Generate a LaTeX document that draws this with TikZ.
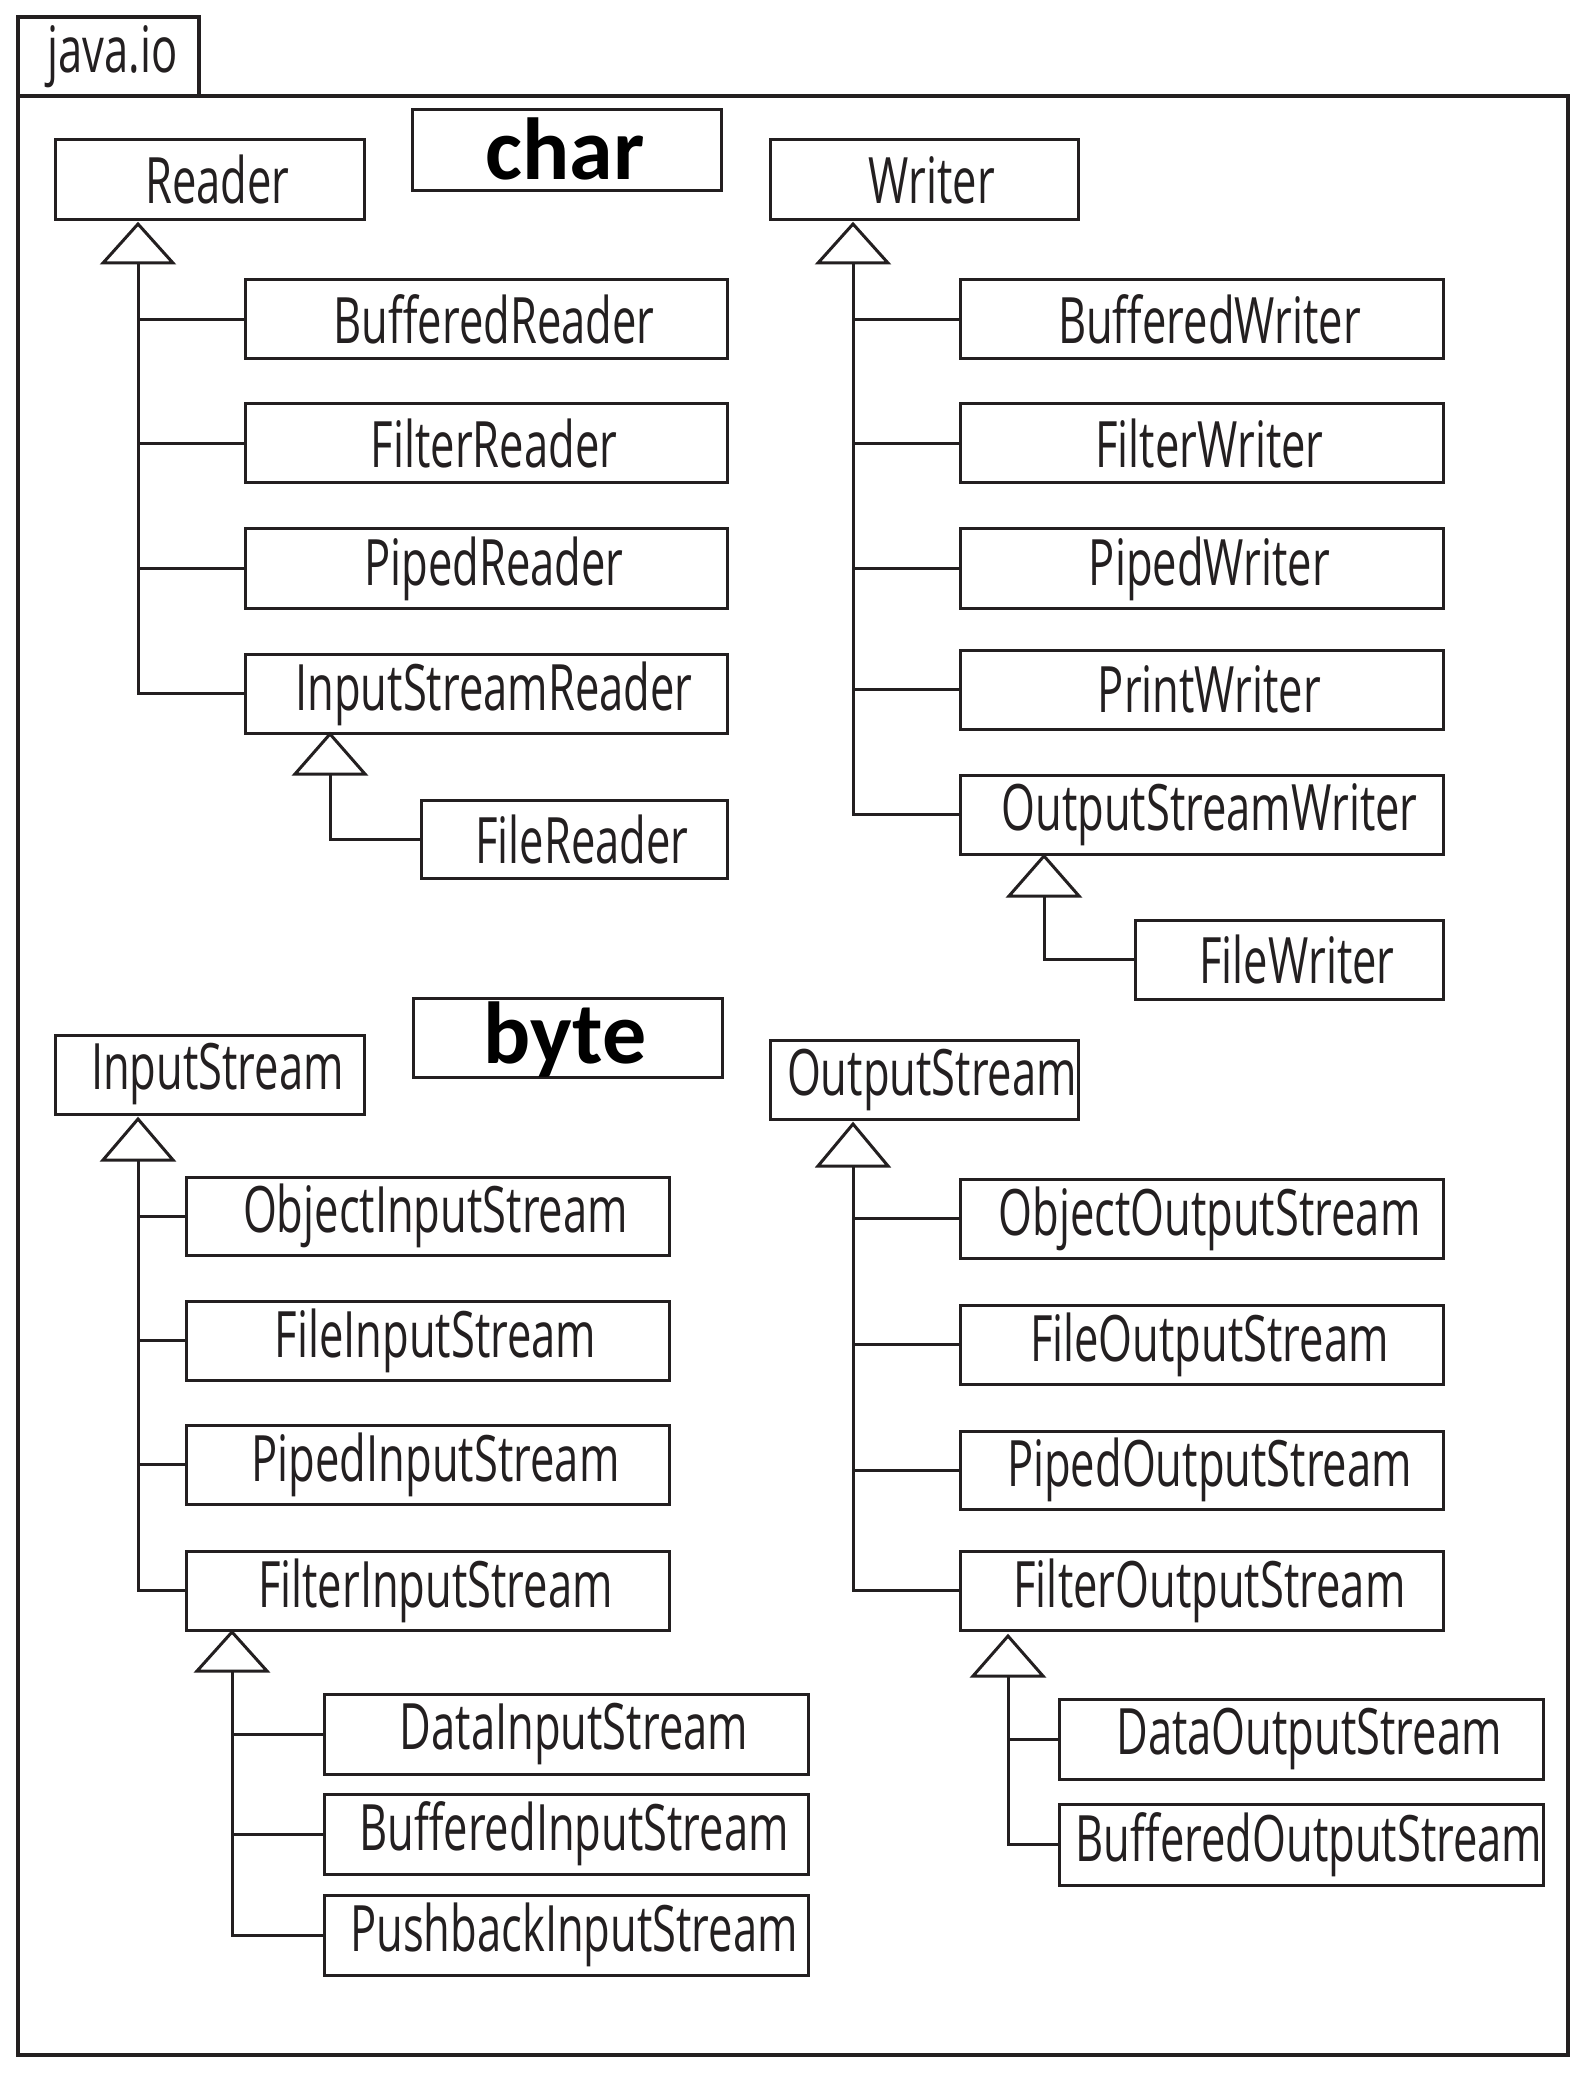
\documentclass[tikz,border=0pt]{standalone}
\usepackage{fontspec}
\newfontfamily\clsfont[FakeStretch=0.68]{Open Sans}
\newfontfamily\tagfont{Carlito}
\definecolor{ink}{HTML}{231F20}
\newcommand\clsbox[6]{\node[clsnode, minimum width={(#4-#2)*0.5pt}, minimum height={(#5-#3)*0.5pt}] (#1) at ({(#2+#4)/2},{(#3+#5)/2}) {\hspace*{8pt}#6};}
\newcommand\gentri[4]{% name, x, apex y, base y
  \coordinate (#1a) at (#2,#3);
  \coordinate (#1b) at (#2,#4);
  \draw[conn] (#1a) -- (#2-35,#4) -- (#2+35,#4) -- cycle;}
\begin{document}
\begin{tikzpicture}[x=0.5pt,y=-0.5pt,
  clsnode/.style={draw=ink, line width=1.5pt, inner sep=0pt, font=\clsfont\fontsize{32}{38}\selectfont, text=ink},
  conn/.style={draw=ink, line width=1.5pt},
  frame/.style={draw=ink, line width=2pt},
  tagnode/.style={draw=ink, line width=1.5pt, inner sep=0pt},
  tagtext/.style={anchor=base, inner sep=0pt, font=\tagfont\bfseries\fontsize{44}{50}\selectfont, text=black}]
\useasboundingbox (0,0) rectangle (1588,2096);
% package frame
\draw[frame] (18,96) rectangle (1568,2055);
\node[draw=ink, line width=2pt, inner sep=0pt, minimum width={181*0.5pt}, minimum height={79*0.5pt}, font=\clsfont\fontsize{32}{38}\selectfont, text=ink] (pkg) at (108.5,56.5) {\hspace*{4pt}java.io};
% char / byte labels
\node[tagnode, minimum width={309*0.5pt}, minimum height={81*0.5pt}] (charbox) at (566.5,150.5) {};
\node[tagtext] (chartxt) at (565,180) {char};
\node[tagnode, minimum width={309*0.5pt}, minimum height={79*0.5pt}] (bytebox) at (567.5,1037.5) {};
\node[tagtext] (bytetxt) at (565,1063) {byte};
% ---------- Reader ----------
\clsbox{reader}{55}{140}{364}{220}{Reader}
\clsbox{bufR}{245}{280}{727}{359}{BufferedReader}
\clsbox{filR}{245}{404}{727}{483}{FilterReader}
\clsbox{pipR}{245}{529}{727}{608}{PipedReader}
\clsbox{isr}{245}{654}{727}{733}{InputStreamReader}
\clsbox{fileR}{421}{800}{727}{878}{FileReader}
\gentri{tR}{138}{224}{263}
\foreach \c in {bufR,filR,pipR,isr} \draw[conn] (tRb) |- (\c.west);
\gentri{tI}{330}{734}{774}
\draw[conn] (tIb) |- (fileR.west);
% ---------- Writer ----------
\clsbox{writer}{770}{140}{1078}{220}{Writer}
\clsbox{bufW}{960}{280}{1443}{359}{BufferedWriter}
\clsbox{filW}{960}{404}{1443}{483}{FilterWriter}
\clsbox{pipW}{960}{529}{1443}{608}{PipedWriter}
\clsbox{priW}{960}{650}{1443}{729}{PrintWriter}
\clsbox{osw}{960}{775}{1443}{854}{OutputStreamWriter}
\clsbox{fileW}{1135}{920}{1443}{999}{FileWriter}
\gentri{tW}{853}{224}{263}
\foreach \c in {bufW,filW,pipW,priW,osw} \draw[conn] (tWb) |- (\c.west);
\gentri{tO}{1044}{856}{896}
\draw[conn] (tOb) |- (fileW.west);
% ---------- InputStream ----------
\clsbox{ins}{55}{1035}{364}{1114}{InputStream}
\clsbox{objI}{186}{1177}{669}{1255}{ObjectInputStream}
\clsbox{fileI}{186}{1301}{669}{1380}{FileInputStream}
\clsbox{pipI}{186}{1425}{669}{1504}{PipedInputStream}
\clsbox{filI}{186}{1551}{669}{1630}{FilterInputStream}
\clsbox{datI}{324}{1694}{808}{1774}{DataInputStream}
\clsbox{bufI}{324}{1794}{808}{1874}{BufferedInputStream}
\clsbox{pusI}{324}{1895}{808}{1975}{PushbackInputStream}
\gentri{tIS}{138}{1119}{1160}
\foreach \c in {objI,fileI,pipI,filI} \draw[conn] (tISb) |- (\c.west);
\gentri{tFI}{232}{1632}{1671}
\foreach \c in {datI,bufI,pusI} \draw[conn] (tFIb) |- (\c.west);
% ---------- OutputStream ----------
\clsbox{outs}{770}{1040}{1078}{1119}{OutputStream}
\clsbox{objO}{960}{1179}{1443}{1258}{ObjectOutputStream}
\clsbox{fileO}{960}{1305}{1443}{1384}{FileOutputStream}
\clsbox{pipO}{960}{1431}{1443}{1509}{PipedOutputStream}
\clsbox{filO}{960}{1551}{1443}{1630}{FilterOutputStream}
\clsbox{datO}{1059}{1699}{1543}{1779}{DataOutputStream}
\clsbox{bufO}{1059}{1804}{1543}{1885}{BufferedOutputStream}
\gentri{tOS}{853}{1124}{1166}
\foreach \c in {objO,fileO,pipO,filO} \draw[conn] (tOSb) |- (\c.west);
\gentri{tFO}{1008}{1636}{1676}
\foreach \c in {datO,bufO} \draw[conn] (tFOb) |- (\c.west);
\end{tikzpicture}
\end{document}
